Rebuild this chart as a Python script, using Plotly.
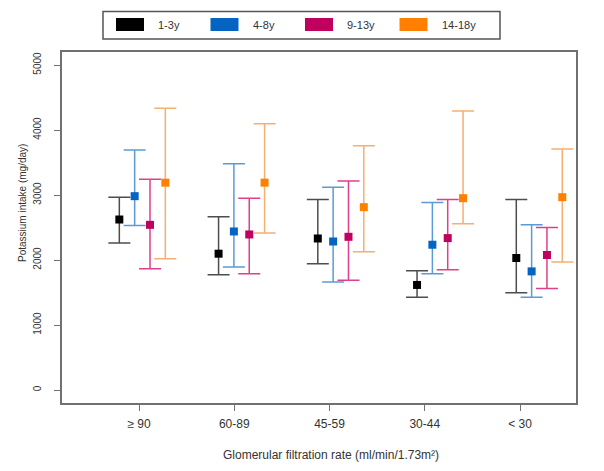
import plotly.graph_objects as go

# ---------------- data ----------------
categories = ["\u2265 90", "60-89", "45-59", "30-44", "< 30"]
series_names = ["1-3y", "4-8y", "9-13y", "14-18y"]

mean_1_3 = [2623, 2097, 2331, 1616, 2031]
upper_1_3 = [2966, 2664, 2930, 1836, 2930]
lower_1_3 = [2261, 1775, 1943, 1427, 1498]

mean_4_8 = [2982, 2439, 2285, 2235, 1825]
upper_4_8 = [3692, 3482, 3120, 2884, 2541]
lower_4_8 = [2531, 1892, 1663, 1790, 1427]

mean_9_13 = [2541, 2393, 2357, 2337, 2077]
upper_9_13 = [3242, 2951, 3216, 2930, 2500]
lower_9_13 = [1866, 1790, 1687, 1851, 1560]

mean_14_18 = [3190, 3190, 2813, 2951, 2966]
upper_14_18 = [4336, 4095, 3758, 4294, 3707]
lower_14_18 = [2020, 2414, 2127, 2557, 1969]

y_ticks = [0, 1000, 2000, 3000, 4000, 5000]

x_title = "Glomerular filtration rate (ml/min/1.73m\u00b2)"
y_title = "Potassium intake (mg/day)"

# ---------------- styles ----------------
marker_colors = ["#000000", "#0563C1", "#C0005E", "#FF8000"]
bar_colors = ["#4D4D4D", "#5B9BD5", "#E0408A", "#F5B070"]

means = [mean_1_3, mean_4_8, mean_9_13, mean_14_18]
uppers = [upper_1_3, upper_4_8, upper_9_13, upper_14_18]
lowers = [lower_1_3, lower_4_8, lower_9_13, lower_14_18]

# page offset of the html body (default 8px margin)
OFF = 8
W, H = 604 - 2 * OFF, 471 - 2 * OFF
# plot box in page pixels: x 62..576, y 52..403
L = 62 - OFF
T = 52 - OFF
R = W - (576 - OFF)
B = H - (403 - OFF)
plot_w = W - L - R
plot_h = H - T - B

FIRST = 0.793
GROUP_STEP = 1.042
SERIES_STEP = 0.161

fig = go.Figure()
for j in range(len(series_names)):
    xs = [FIRST + i * GROUP_STEP + j * SERIES_STEP for i in range(len(categories))]
    m = means[j]
    up = [u - v for u, v in zip(uppers[j], m)]
    lo = [v - l for v, l in zip(m, lowers[j])]
    fig.add_trace(go.Scatter(
        x=xs, y=m, mode="markers", name=series_names[j],
        marker=dict(symbol="square", size=8, color=marker_colors[j]),
        error_y=dict(type="data", symmetric=False, array=up, arrayminus=lo,
                     color=bar_colors[j], thickness=1.5, width=11),
        showlegend=False,
    ))

tick_positions = list(range(1, len(categories) + 1))

FONT = "Liberation Sans, Arial, sans-serif"
TXT = "#333333"
axis_font = dict(family=FONT, size=12, color=TXT)
ytick_font = dict(family=FONT, size=10, color=TXT)
legend_font = dict(family=FONT, size=11, color=TXT)

fig.update_layout(
    width=W, height=H,
    margin=dict(l=L, r=R, t=T, b=B, pad=0, autoexpand=False),
    paper_bgcolor="white", plot_bgcolor="white",
    font=axis_font,
    xaxis=dict(
        range=[0.191, 5.588], tickvals=tick_positions, ticktext=categories,
        showgrid=False, zeroline=False, showline=True, mirror=True,
        linecolor="#707070", linewidth=1.5,
        ticks="outside", ticklen=6, tickwidth=1.2, tickcolor="#707070",
        tickfont=axis_font, ticklabelstandoff=3, automargin=False,
    ),
    yaxis=dict(
        range=[-200, 5200], tickvals=y_ticks, ticktext=[str(v) for v in y_ticks],
        showgrid=False, zeroline=False, showline=True, mirror=True,
        linecolor="#707070", linewidth=1.5,
        ticks="outside", ticklen=6, tickwidth=1.2, tickcolor="#707070",
        tickangle=-90, tickfont=ytick_font, ticklabelstandoff=9, automargin=False,
    ),
)

# ---------------- helpers: page pixel -> paper coords ----------------
def px(x):
    return (x - OFF - L) / plot_w

def py(y):
    return (H - B - (y - OFF)) / plot_h

# axis titles
fig.add_annotation(xref="paper", yref="paper", x=px(331), y=py(455), text=x_title,
                   showarrow=False, xanchor="center", yanchor="middle", font=axis_font)
fig.add_annotation(xref="paper", yref="paper", x=px(22), y=py(203), text=y_title,
                   showarrow=False, xanchor="center", yanchor="middle", textangle=-90,
                   font=dict(family=FONT, size=10, color=TXT))

# ---------------- manual legend box ----------------
fig.add_shape(type="rect", xref="paper", yref="paper",
              x0=px(103), x1=px(500), y0=py(39), y1=py(11.5),
              line=dict(color="#555555", width=1.5), fillcolor="white")
LEG_X0 = 116
LEG_STEP = 94.5
for j, name in enumerate(series_names):
    sx = LEG_X0 + j * LEG_STEP
    fig.add_shape(type="rect", xref="paper", yref="paper",
                  x0=px(sx), x1=px(sx + 28), y0=py(31), y1=py(18),
                  line=dict(width=0), fillcolor=marker_colors[j])
    fig.add_annotation(xref="paper", yref="paper", x=px(sx + 40), y=py(25),
                       text=name, showarrow=False, xanchor="left", yanchor="middle",
                       font=legend_font)

fig.write_html("out.html")
